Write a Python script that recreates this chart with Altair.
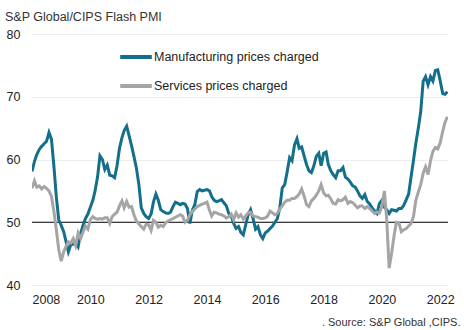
import altair as alt
import pandas as pd

start = "2008-01-01"
n_months = 172

manufacturing = [
    58.1, 59.7, 60.8, 61.6, 62.1, 62.5, 62.9, 64.3, 63.2, 59.0, 54.0, 50.4,
    49.5, 48.5, 47.0, 45.3, 46.4, 46.5, 46.8, 46.1, 48.2, 49.5, 50.6, 51.3,
    52.4, 53.5, 55.0, 57.2, 60.6, 60.0, 58.4, 59.1, 57.5, 57.4, 57.1, 59.0,
    61.8, 63.5, 64.6, 65.3, 63.8, 62.2, 60.5, 58.6, 56.0, 52.3, 51.4, 50.9,
    50.6, 51.3, 53.2, 54.5, 53.5, 52.0, 51.7, 51.5, 51.4, 51.6, 52.5, 53.2,
    53.0, 52.8, 53.0, 52.9, 52.2, 49.8, 51.9, 52.8, 54.9, 55.2, 55.0, 55.1,
    55.2, 55.0, 54.1, 53.5, 53.3, 53.4, 53.6, 53.1, 52.6, 51.4, 51.0, 49.8,
    49.0, 49.3, 48.4, 48.0, 49.6, 51.2, 52.0, 50.6, 48.9, 49.3, 48.0, 47.4,
    48.3, 48.6, 49.0, 49.4, 50.0, 50.6, 52.3, 55.5, 56.0, 58.0, 60.3, 59.8,
    62.3, 63.3, 61.8, 62.0, 60.6, 59.2, 58.2, 57.9, 59.0, 60.5, 61.0, 59.0,
    61.0, 61.2, 59.2, 58.2, 57.6, 57.1, 58.2, 58.2, 58.7, 57.2, 56.9, 56.4,
    55.8, 55.6, 55.0, 54.2, 53.8, 54.4, 53.3, 52.9, 52.3, 51.8, 51.4, 53.0,
    53.5, 52.4, 52.0, 51.4, 52.0, 51.9, 51.8, 52.2, 52.2, 52.7, 53.6, 54.5,
    57.3, 60.0, 62.6, 65.0, 67.6, 72.5, 73.2, 71.9, 73.2, 72.5, 74.2, 74.3,
    72.5, 70.5, 70.4, 70.8,
]

services = [
    55.4, 56.6, 55.6, 55.8, 55.3, 55.7, 55.4, 55.0, 54.1, 51.8, 48.8, 45.6,
    43.8, 45.3, 46.1, 46.9, 46.7, 47.4, 46.3, 48.3, 47.4, 48.4, 49.4, 48.9,
    50.4, 50.9, 50.6, 50.5, 50.6, 50.5, 50.7, 50.7, 49.8, 50.9, 51.3, 51.6,
    52.6, 53.4, 52.3, 53.3, 52.4, 52.5, 51.2, 50.2, 49.7, 49.3, 48.9, 49.7,
    49.6, 48.7, 50.3, 50.0, 49.2, 49.5, 49.3, 49.9, 50.2, 50.4, 50.6, 50.8,
    51.0, 51.2, 51.0, 50.0, 50.3, 51.2, 51.7, 52.1, 52.5, 52.7, 52.9, 53.0,
    53.2, 51.9, 51.0, 51.6, 51.5, 51.3, 51.2, 51.0, 50.7, 50.9, 51.3, 50.4,
    51.5, 50.8, 51.2, 50.5, 51.0, 51.5, 51.6, 51.0, 50.9, 50.8, 50.6, 50.6,
    50.7, 51.0, 51.8, 51.5, 51.2, 51.4, 52.1, 52.6, 53.2, 53.5, 53.5, 53.8,
    53.8, 54.1, 54.5, 55.3, 54.2, 52.8, 52.5, 53.4, 53.8, 54.3, 55.0, 56.0,
    54.7, 54.2, 54.3, 53.7, 53.0, 52.9, 53.6, 53.4, 53.6, 54.0, 53.0, 53.3,
    53.1, 52.7, 52.3, 52.6, 52.6, 52.2, 52.5, 52.2, 51.8, 51.4, 51.6, 51.5,
    52.5, 55.0, 50.5, 42.7, 45.0, 47.8, 50.0, 49.9, 48.5, 48.8, 49.0, 49.4,
    49.8, 51.0, 53.5, 54.8, 56.0, 57.8, 58.8, 57.6, 59.8, 61.3, 61.9, 61.7,
    62.7, 64.5, 65.9, 66.8,
]

series_names = ["Manufacturing prices charged", "Services prices charged"]
series_colors = ["#136f8a", "#a5a5a5"]
year_ticks = [2008, 2010, 2012, 2014, 2016, 2018, 2020, 2022]
y_ticks = [40, 50, 60, 70, 80]
reference_level = [50]

dates = pd.date_range(start, periods=n_months, freq="MS")
df = pd.concat([
    pd.DataFrame({"date": dates, "value": manufacturing, "series": series_names[0]}),
    pd.DataFrame({"date": dates, "value": services, "series": series_names[1]}),
])

FONT = "Liberation Sans"
y_scale = alt.Scale(domain=[40, 80], zero=False, nice=False)

x_enc = alt.X(
    "date:T",
    scale=alt.Scale(domain=["2008-01-01", "2022-04-08"]),
    axis=alt.Axis(
        values=[f"{y}-01-01" for y in year_ticks],
        format="%Y",
        labelFontSize=12.5,
        labelColor="#222222",
        labelFont=FONT,
        labelPadding=8,
        ticks=False,
        domain=False,
        grid=False,
        title=". Source: S&P Global ,CIPS.",
        titleFontSize=11,
        titleFontWeight="normal",
        titleFont=FONT,
        titleColor="#333333",
        titleAlign="right",
        titleBaseline="middle",
        titleAnchor="end",
        titleX=428,
        titleY=37,
    ),
)

lines = alt.Chart(df).mark_line(strokeWidth=3, clip=True).encode(
    x=x_enc,
    y=alt.Y(
        "value:Q",
        scale=y_scale,
        axis=alt.Axis(
            values=y_ticks,
            labelFontSize=12.5,
            labelColor="#222222",
            labelFont=FONT,
            labelAlign="left",
            labelPadding=26,
            ticks=False,
            domain=False,
            gridColor="#ececec",
            gridWidth=1,
            title=None,
        ),
    ),
    color=alt.Color(
        "series:N",
        scale=alt.Scale(domain=series_names, range=series_colors),
        sort=series_names,
        legend=alt.Legend(
            title=None,
            orient="none",
            legendX=86,
            legendY=5,
            symbolType="stroke",
            symbolStrokeWidth=4,
            symbolSize=1000,
            labelFontSize=12.5,
            labelFont=FONT,
            labelColor="#222222",
            labelLimit=400,
            rowPadding=3,
            labelOffset=0,
        ),
    ),
)

rule = alt.Chart(pd.DataFrame({"value": reference_level})).mark_rule(
    color="black", strokeWidth=1
).encode(y=alt.Y("value:Q", scale=y_scale))

chart = alt.layer(rule, lines).properties(
    width=416,
    height=251,
    autosize=alt.AutoSizeParams(type="none"),
    padding={"left": 32, "top": 34, "right": 16, "bottom": 45},
    title=alt.TitleParams(
        "S&P Global/CIPS Flash PMI",
        anchor="start",
        dx=-1,
        offset=5,
        fontSize=12.5,
        fontWeight="normal",
        font=FONT,
        color="#333333",
    ),
).configure_view(stroke=None)

chart.save("out.html", embed_options={"renderer": "svg", "actions": False})
